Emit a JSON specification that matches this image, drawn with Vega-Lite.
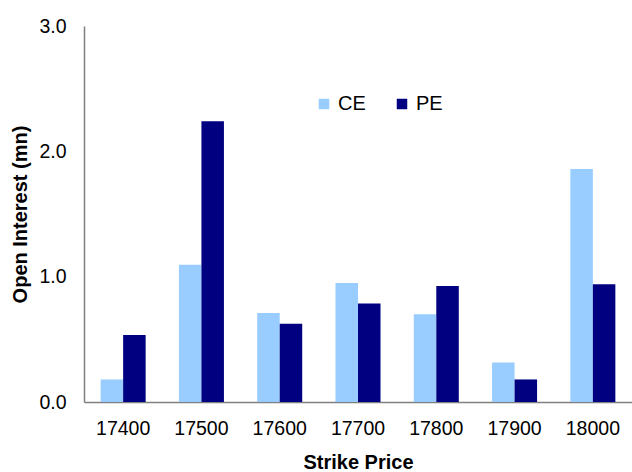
{
  "$schema": "https://vega.github.io/schema/vega-lite/v6.json",
  "width": 548,
  "height": 376,
  "autosize": "none",
  "padding": {"left": 84, "top": 26, "right": 0, "bottom": 70},
  "background": "white",
  "config": {
    "view": {"stroke": null},
    "font": "Liberation Sans"
  },
  "data": {
    "values": [
      {"strike": "17400", "type": "CE", "oi": 0.18},
      {"strike": "17400", "type": "PE", "oi": 0.535},
      {"strike": "17500", "type": "CE", "oi": 1.095},
      {"strike": "17500", "type": "PE", "oi": 2.24},
      {"strike": "17600", "type": "CE", "oi": 0.71},
      {"strike": "17600", "type": "PE", "oi": 0.625},
      {"strike": "17700", "type": "CE", "oi": 0.95},
      {"strike": "17700", "type": "PE", "oi": 0.785},
      {"strike": "17800", "type": "CE", "oi": 0.70},
      {"strike": "17800", "type": "PE", "oi": 0.925},
      {"strike": "17900", "type": "CE", "oi": 0.315},
      {"strike": "17900", "type": "PE", "oi": 0.18},
      {"strike": "18000", "type": "CE", "oi": 1.86},
      {"strike": "18000", "type": "PE", "oi": 0.94}
    ]
  },
  "mark": {"type": "bar"},
  "encoding": {
    "x": {
      "field": "strike",
      "type": "nominal",
      "scale": {"paddingInner": 0.425, "paddingOuter": 0.2125},
      "axis": {
        "title": "Strike Price",
        "titleFontSize": 20,
        "titleFontWeight": "bold",
        "titleColor": "black",
        "titlePadding": 15,
        "labelAngle": 0,
        "labelFontSize": 19.5,
        "labelColor": "black",
        "labelPadding": 17,
        "ticks": false,
        "domainColor": "#808080",
        "domainWidth": 1.5
      }
    },
    "xOffset": {"field": "type", "type": "nominal", "scale": {"paddingInner": 0, "paddingOuter": 0}},
    "y": {
      "field": "oi",
      "type": "quantitative",
      "scale": {"domain": [0, 3]},
      "axis": {
        "title": "Open Interest (mn)",
        "titleFontSize": 20,
        "titleFontWeight": "bold",
        "titleColor": "black",
        "titlePadding": 8,
        "values": [0, 1, 2, 3],
        "format": ".1f",
        "grid": false,
        "ticks": false,
        "labelFontSize": 19.5,
        "labelColor": "black",
        "labelPadding": 18,
        "domainColor": "#808080",
        "domainWidth": 1.5
      }
    },
    "color": {
      "field": "type",
      "type": "nominal",
      "scale": {"domain": ["CE", "PE"], "range": ["#99CCFF", "#000080"]},
      "legend": {
        "title": null,
        "orient": "none",
        "direction": "horizontal",
        "legendX": 230,
        "legendY": 68,
        "symbolType": "square",
        "symbolSize": 110,
        "symbolStrokeWidth": 0,
        "symbolOpacity": 1,
        "labelFontSize": 20,
        "labelColor": "black",
        "labelOffset": 4,
        "columnPadding": 26
      }
    }
  }
}
